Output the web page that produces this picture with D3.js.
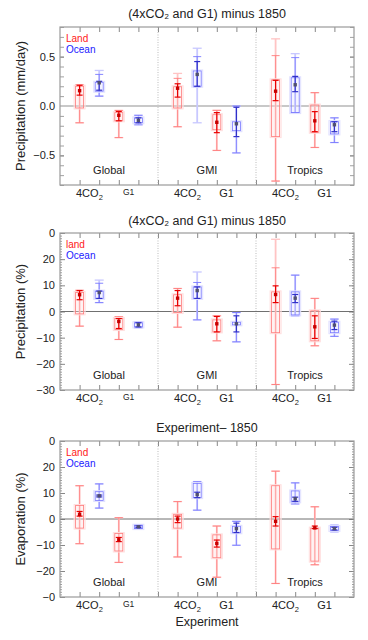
<!DOCTYPE html>
<html><head><meta charset="utf-8">
<script src="https://cdn.jsdelivr.net/npm/d3@7"></script>
<style>body{margin:0;background:#fff}svg{display:block;font-family:"Liberation Sans",Arial,sans-serif}</style>
</head><body><svg id="c" width="368" height="640"></svg>
<script>
// ---------- data ----------
const regions = ["Global", "GMI", "Tropics"];
const experiments = ["4CO2", "G1"];
const surfaces = ["Land", "Ocean"];
// element order: region x experiment x surface
// Panel 1: precipitation (mm/day)
const p1Mean    = [0.155, 0.235, -0.094, -0.145, 0.18, 0.32, -0.165, -0.18, 0.15, 0.215, -0.15, -0.19];
const p1BoxLo   = [-0.02, 0.15, -0.15, -0.17, -0.02, 0.20, -0.24, -0.25, -0.31, -0.067, -0.266, -0.283];
const p1BoxHi   = [0.20, 0.24, -0.067, -0.12, 0.195, 0.355, -0.088, -0.16, 0.265, 0.286, 0.01, -0.158];
const p1WhiskLo = [-0.17, 0.10, -0.32, -0.19, -0.21, 0.19, -0.45, -0.475, -0.76, -0.067, -0.42, -0.37];
const p1WhiskHi = [0.215, 0.32, -0.045, -0.094, 0.28, 0.50, -0.044, 0.0, 0.51, 0.49, 0.135, -0.12];
const p1RangeLo = [-0.17, 0.10, -0.32, -0.19, -0.21, -0.17, -0.45, -0.475, -0.76, -0.067, -0.42, -0.37];
const p1RangeHi = [0.215, 0.36, -0.045, -0.094, 0.33, 0.585, -0.044, 0.0, 0.68, 0.53, 0.135, -0.12];
const p1InnerLo = [0.11, 0.16, -0.15, -0.17, 0.09, 0.20, -0.27, -0.31, 0.054, 0.145, -0.26, -0.26];
const p1InnerHi = [0.21, 0.25, -0.055, -0.12, 0.225, 0.45, -0.067, -0.013, 0.26, 0.30, -0.057, -0.16];
// Panel 2: precipitation (%)
const p2Mean    = [6.4, 7.25, -3.8, -5.1, 5.1, 8.0, -4.7, -4.7, 6.5, 5.1, -5.85, -5.2];
const p2BoxLo   = [-0.9, 5.0, -6.9, -5.9, -0.4, 5.0, -7.8, -5.1, -8.1, -1.3, -11.2, -8.1];
const p2BoxHi   = [7.25, 7.8, -2.7, -4.3, 6.4, 9.4, -3.2, -4.1, 7.5, 7.5, 0.25, -4.1];
const p2WhiskLo = [-5.6, 3.4, -10.7, -6.2, -6.0, -3.2, -11.2, -11.6, -27.9, -1.65, -13.1, -9.5];
const p2WhiskHi = [8.1, 10.8, -2.0, -3.9, 8.8, 11.1, -1.65, -0.4, 16.7, 13.9, 5.0, -2.9];
const p2RangeLo = [-5.6, 3.4, -10.7, -6.2, -6.0, -3.2, -11.2, -11.6, -27.9, -1.65, -13.1, -9.5];
const p2RangeHi = [8.1, 12.0, -2.0, -3.9, 8.8, 15.1, -1.65, -0.4, 27.6, 13.9, 5.0, -2.9];
const p2InnerLo = [4.5, 5.0, -6.5, -5.9, 2.2, 5.0, -7.8, -7.8, 3.4, 3.4, -10.3, -6.9];
const p2InnerHi = [8.0, 7.8, -2.7, -4.3, 8.0, 9.4, -1.9, -1.65, 9.8, 6.5, -1.65, -3.7];
// Panel 3: evaporation (%)
const p3Mean    = [1.8, 8.9, -8.0, -3.0, 0.0, 9.4, -9.4, -3.7, -0.9, 7.8, -3.4, -3.7];
const p3BoxLo   = [-3.5, 7.1, -12.3, -3.7, -3.5, 8.2, -14.9, -5.3, -11.5, 6.6, -16.2, -4.4];
const p3BoxHi   = [5.2, 10.5, -5.6, -2.4, 1.8, 13.7, -6.1, -2.8, 12.8, 10.8, -3.5, -2.9];
const p3WhiskLo = [-9.5, 4.2, -16.7, -3.7, -14.6, 3.4, -22.4, -10.1, -24.8, 5.8, -17.6, -4.9];
const p3WhiskHi = [12.8, 13.5, 0.5, -2.4, 6.7, 14.4, -2.7, -0.9, 18.4, 13.9, 4.7, -2.4];
const p3RangeLo = [-9.5, 4.2, -16.7, -3.7, -14.6, 3.4, -22.4, -10.1, -24.8, 5.8, -17.6, -4.9];
const p3RangeHi = [12.8, 13.5, 0.5, -2.4, 6.7, 14.4, -2.7, -0.9, 18.4, 13.9, 4.7, -2.4];
const p3InnerLo = [1.1, 8.5, -8.7, -3.3, -1.4, 8.2, -10.8, -5.2, -2.7, 6.8, -3.7, -4.2];
const p3InnerHi = [2.9, 9.2, -7.1, -2.7, 1.1, 10.3, -8.1, -1.6, 0.9, 8.4, -2.7, -3.2];
// tick labels
const p1TickValues = [0.5, 0.0, -0.5];
const p1TickLabels = ["0.5", "0.0", "\u22120.5"];
const p2TickValues = [30, 20, 10, 0, -10, -20, -30];
const p2TickLabels = ["0", "20", "10", "0", "\u221210", "\u221220", "\u221230"];
const p3TickValues = [30, 20, 10, 0, -10, -20, -30];
const p3TickLabels = ["0", "20", "10", "0", "\u221210", "\u221220", "\u22120"];
const titles = ["(4xCO\u2082 and G1) minus 1850", "(4xCO\u2082 and G1) minus 1850", "Experiment\u2013 1850"];
const yTitles = ["Precipitation (mm/day)", "Precipitation (%)", "Evaporation (%)"];
const legendLand = ["Land", "land", "Land"];

// ---------- layout ----------
const svg = d3.select("#c");
const X0 = 60, X1 = 354;
const x = d3.scaleLinear().domain([0, 15]).range([X0, X1]);
const elemPos = [];
regions.forEach((r, ri) => experiments.forEach((e, ei) => surfaces.forEach((s, si) => elemPos.push(ri * 5 + 1 + ei * 2 + si))));
const col = {
  Land:  {pale: "#ffc4c4", halo: "#ffdede", mid: "#ff7c7c", dark: "#e80000", pt: "#c80000"},
  Ocean: {pale: "#c8c8ff", halo: "#e0e0ff", mid: "#7878ff", dark: "#3030c8", pt: "#505070"}
};
const panels = [
  {top: 27, bottom: 185, dom: [-0.8, 0.8], tv: p1TickValues, tl: p1TickLabels, minor: 0.1,
   d: {mean: p1Mean, bLo: p1BoxLo, bHi: p1BoxHi, wLo: p1WhiskLo, wHi: p1WhiskHi, rLo: p1RangeLo, rHi: p1RangeHi, iLo: p1InnerLo, iHi: p1InnerHi},
   zero: {c: "#c8c8c8", w: 2}, titleY: 18},
  {top: 233, bottom: 390, dom: [-30, 30], tv: p2TickValues, tl: p2TickLabels, minor: 1,
   d: {mean: p2Mean, bLo: p2BoxLo, bHi: p2BoxHi, wLo: p2WhiskLo, wHi: p2WhiskHi, rLo: p2RangeLo, rHi: p2RangeHi, iLo: p2InnerLo, iHi: p2InnerHi},
   zero: {c: "#707070", w: 1}, titleY: 225},
  {top: 441, bottom: 597, dom: [-30, 30], tv: p3TickValues, tl: p3TickLabels, minor: 1,
   d: {mean: p3Mean, bLo: p3BoxLo, bHi: p3BoxHi, wLo: p3WhiskLo, wHi: p3WhiskHi, rLo: p3RangeLo, rHi: p3RangeHi, iLo: p3InnerLo, iHi: p3InnerHi},
   zero: {c: "#707070", w: 1}, titleY: 432}
];

panels.forEach((p, pi) => {
  const g = svg.append("g");
  const y = d3.scaleLinear().domain(p.dom).range([p.bottom, p.top]);
  const h = p.bottom - p.top;
  const minorVals = d3.range(Math.round(p.dom[0] / p.minor), Math.round(p.dom[1] / p.minor) + 1).map(v => +(v * p.minor).toFixed(6));
  const majLen = pi === 0 ? 4 : 5, minLen = pi === 0 ? 4 : 2;
  g.append("g").attr("transform", `translate(${X0},0)`).call(d3.axisRight(y).tickValues(minorVals).tickSize(minLen).tickFormat(""))
    .call(a => a.select(".domain").remove()).selectAll("line").attr("stroke", "#a0a0a0");
  g.append("g").attr("transform", `translate(${X1},0)`).call(d3.axisLeft(y).tickValues(minorVals).tickSize(minLen).tickFormat(""))
    .call(a => a.select(".domain").remove()).selectAll("line").attr("stroke", "#a0a0a0");
  const ax = g.append("g").attr("transform", `translate(${X0},0)`)
    .call(d3.axisLeft(y).tickValues(p.tv).tickSize(-majLen).tickPadding(5).tickFormat((d, i) => p.tl[i]));
  ax.select(".domain").remove();
  ax.selectAll("line").attr("stroke", "#888");
  ax.selectAll("text").attr("font-size", 11).attr("fill", "#222").attr("font-family", "Liberation Sans, Arial, sans-serif");
  g.append("g").attr("transform", `translate(${X1},0)`).call(d3.axisRight(y).tickValues(p.tv).tickSize(-majLen).tickFormat(""))
    .call(a => a.select(".domain").remove()).selectAll("line").attr("stroke", "#888");
  const xt = d3.range(1, 15);
  g.append("g").attr("transform", `translate(0,${p.top})`).call(d3.axisTop(x).tickValues(xt).tickSize(-5).tickFormat(""))
    .call(a => a.select(".domain").remove()).selectAll("line").attr("stroke", "#888");
  g.append("g").attr("transform", `translate(0,${p.bottom})`).call(d3.axisBottom(x).tickValues(xt).tickSize(-5).tickFormat(""))
    .call(a => a.select(".domain").remove()).selectAll("line").attr("stroke", "#888");
  [5, 10].forEach(v => g.append("line").attr("x1", x(v)).attr("x2", x(v)).attr("y1", p.top).attr("y2", p.bottom)
    .attr("stroke", "#aaa").attr("stroke-width", 0.8).attr("stroke-dasharray", "1,1.5"));
  g.append("line").attr("x1", X0).attr("x2", X1).attr("y1", y(0)).attr("y2", y(0)).attr("stroke", p.zero.c).attr("stroke-width", p.zero.w);
  g.append("rect").attr("x", X0).attr("y", p.top).attr("width", X1 - X0).attr("height", h).attr("fill", "none").attr("stroke", "#9a9a9a").attr("stroke-width", 1.2);

  const D = p.d;
  elemPos.forEach((pos, i) => {
    const s = surfaces[i % 2];
    const c = col[s];
    const cx = x(pos);
    const e = g.append("g");
    const cap = (v, w, stroke, sw) => e.append("line").attr("x1", cx - w / 2).attr("x2", cx + w / 2).attr("y1", y(v)).attr("y2", y(v)).attr("stroke", stroke).attr("stroke-width", sw);
    e.append("line").attr("x1", cx).attr("x2", cx).attr("y1", y(D.rLo[i])).attr("y2", y(D.rHi[i])).attr("stroke", c.pale).attr("stroke-width", 1.8);
    cap(D.rLo[i], 9, c.pale, 1.3); cap(D.rHi[i], 9, c.pale, 1.3);
    e.append("line").attr("x1", cx).attr("x2", cx).attr("y1", y(D.wLo[i])).attr("y2", y(D.wHi[i])).attr("stroke", c.mid).attr("stroke-width", 0.8);
    cap(D.wLo[i], 8, c.mid, 0.9); cap(D.wHi[i], 8, c.mid, 0.9);
    const bt = y(D.bHi[i]), bb = y(D.bLo[i]);
    e.append("rect").attr("x", cx - 5.5).attr("y", bt - 1).attr("width", 11).attr("height", Math.max(bb - bt + 2, 2))
      .attr("fill", c.halo).attr("fill-opacity", 0.35).attr("stroke", c.halo).attr("stroke-width", 1);
    e.append("rect").attr("x", cx - 4).attr("y", bt).attr("width", 8).attr("height", Math.max(bb - bt, 1))
      .attr("fill", "none").attr("stroke", c.mid).attr("stroke-width", 0.8);
    e.append("line").attr("x1", cx).attr("x2", cx).attr("y1", y(D.iLo[i])).attr("y2", y(D.iHi[i])).attr("stroke", c.dark).attr("stroke-width", 1.2);
    cap(D.iLo[i], 6, c.dark, 1.2); cap(D.iHi[i], 6, c.dark, 1.2);
    e.append("rect").attr("x", cx - 1.7).attr("y", y(D.mean[i]) - 1.7).attr("width", 3.4).attr("height", 3.4).attr("fill", c.pt);
  });

  svg.append("text").attr("x", 207).attr("y", p.titleY).attr("text-anchor", "middle").attr("font-size", 12.5).attr("fill", "#222")
    .text(titles[pi]);
  svg.append("text").attr("transform", `translate(25,${(p.top + p.bottom) / 2}) rotate(-90)`).attr("text-anchor", "middle")
    .attr("font-size", 13).attr("fill", "#222").text(yTitles[pi]);
  svg.append("text").attr("x", 66).attr("y", p.top + 15).attr("font-size", 10).attr("fill", "#ff2020").text(legendLand[pi]);
  svg.append("text").attr("x", 66).attr("y", p.top + 25.5).attr("font-size", 10).attr("fill", "#2020ff").text(surfaces[1]);
  regions.forEach((r, ri) => svg.append("text").attr("x", x(ri * 5 + 2.5)).attr("y", p.bottom - 11).attr("text-anchor", "middle")
    .attr("font-size", 11).attr("fill", "#222").text(r));
  regions.forEach((r, ri) => experiments.forEach((ex, ei) => {
    const t = svg.append("text").attr("x", x(ri * 5 + 1.5 + ei * 2)).attr("y", p.bottom + 12).attr("text-anchor", "middle")
      .attr("fill", "#222");
    if (ex === "4CO2") {
      t.attr("font-size", 11);
      t.append("tspan").text("4CO");
      t.append("tspan").attr("font-size", 7.5).attr("dy", 3).text("2");
    } else {
      t.attr("font-size", ri === 0 ? 8.5 : 11).attr("y", ri === 0 ? p.bottom + 10 : p.bottom + 12).text(ex);
    }
  }));
});
svg.append("text").attr("x", 207).attr("y", 626).attr("text-anchor", "middle").attr("font-size", 12.5).attr("fill", "#222").text("Experiment");
</script></body></html>
